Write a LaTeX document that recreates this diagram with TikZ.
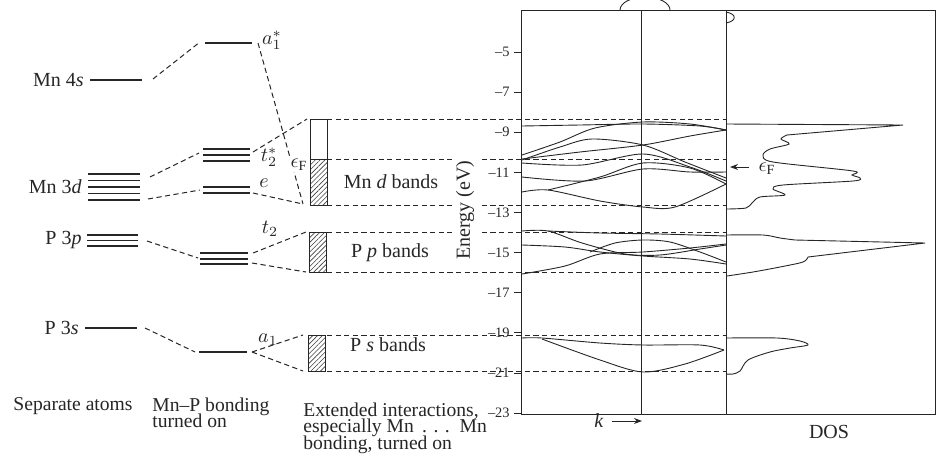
\documentclass[tikz,border=0pt]{standalone}
\usepackage{fontspec}
\setmainfont{Liberation Serif}
\usetikzlibrary{patterns.meta,arrows.meta}
\newcommand\captfont{\fontsize{9.8}{8.4}\selectfont\lineskiplimit=-20pt\relax}
\begin{document}
\begin{tikzpicture}[x=0.5pt,y=-0.5pt, color=black!85,
  lvl/.style={line width=0.6pt},
  dsh/.style={dash pattern=on 2.6pt off 1.7pt, line width=0.5pt},
  lbl/.style={font=\fontsize{10}{12}\selectfont, inner sep=1pt},
  capt/.style={font=\captfont, inner sep=1pt, align=left, anchor=north west},
  ticklbl/.style={font=\fontsize{7.2}{8}\selectfont, anchor=east, inner sep=1pt},
  bandln/.style={line width=0.45pt},
  hatch/.style={pattern={Lines[angle=45,distance=1.7pt,line width=0.3pt]}, pattern color=black!75},
  frame/.style={line width=0.42pt}
]
\useasboundingbox (0,0) rectangle (937,456);

% ---------- column 1: separate atoms ----------
\draw[lvl] (90,80) -- (142,80);
\node[lbl, anchor=east] (Mn4s) at (86,80) {Mn 4\textit{s}};
\foreach \y in {174,180.5,187,193.5,200} \draw[lvl] (88,\y) -- (140,\y);
\node[lbl, anchor=east] (Mn3d) at (84,187) {Mn 3\textit{d}};
\foreach \y in {235,240.5,246} \draw[lvl] (87,\y) -- (138,\y);
\node[lbl, anchor=east] (P3p) at (84,240) {P 3\textit{p}};
\draw[lvl] (85,328) -- (137,328);
\node[lbl, anchor=east] (P3s) at (81,328) {P 3\textit{s}};

\coordinate (s4) at (153,79);
\coordinate (d3a) at (150,177);
\coordinate (d3b) at (148,199);
\coordinate (p3) at (147,241);
\coordinate (s3) at (145,328);

% ---------- column 2: Mn-P bonding ----------
\draw[lvl] (205,43) -- (252,43);
\node[lbl] (a1s) at (272,40) {$a_1^*$};
\foreach \y in {149,155,161} \draw[lvl] (203,\y) -- (250,\y);
\node[lbl] (t2s) at (269,157) {$t_2^*$};
\foreach \y in {187,193} \draw[lvl] (203,\y) -- (250,\y);
\node[lbl] (elab) at (264,183) {$e$};
\foreach \y in {253,259,264} \draw[lvl] (200,\y) -- (248,\y);
\node[lbl] (t2) at (270,229) {$t_2$};
\draw[lvl] (199,352) -- (247,352);
\node[lbl] (a1) at (268,340) {$a_1$};

\coordinate (aSL) at (200,42);  \coordinate (aSR) at (258,43);
\coordinate (tSL) at (199,153); \coordinate (tSR) at (253,152);
\coordinate (eL) at (200,190);  \coordinate (eR) at (253,193);
\coordinate (tL) at (198,258);  \coordinate (tRa) at (253,253); \coordinate (tRb) at (252,263);
\coordinate (aL) at (195,352);  \coordinate (aR) at (252,352);

% ---------- column 3: band blocks ----------
\coordinate (mdT) at (307,119); \coordinate (mdB) at (303,204);
\coordinate (ppT) at (306,232); \coordinate (ppB) at (306,272);
\coordinate (psT) at (303,335); \coordinate (psB) at (303,371);

\draw[frame] (310,119) rectangle (327,159);
\draw[frame, hatch] (310,159) rectangle (327,205);
\draw[frame, hatch] (309,232) rectangle (326,272);
\draw[frame, hatch] (308,335) rectangle (325,371);

\node[lbl] (MnD) at (391,182) {Mn \textit{d} bands};
\node[lbl] (PP) at (390,253) {P \textit{p} bands};
\node[lbl] (PS) at (388,345) {P \textit{s} bands};

% ---------- dashed connectors ----------
\draw[dsh] (s4) -- (aSL);
\draw[dsh] (d3a) -- (tSL);
\draw[dsh] (d3b) -- (eL);
\draw[dsh] (aSR) -- (mdB);
\draw[dsh] (tSR) -- (mdT);
\draw[dsh] (eR) -- (mdB);
\draw[dsh] (p3) -- (tL);
\draw[dsh] (tRa) -- (ppT);
\draw[dsh] (tRb) -- (ppB);
\draw[dsh] (s3) -- (aL);
\draw[dsh] (aR) -- (psT);
\draw[dsh] (aR) -- (psB);

\node[lbl, fill=white, inner sep=0.5pt] (eF1) at (299,165) {$\epsilon_{\mathrm{F}}$};

% ---------- horizontal dashed level lines ----------
\foreach \y in {119,159,205,232,272,335,371} \draw[dsh] (327,\y) -- (726,\y);

% ---------- energy axis and frame ----------
\node[lbl, rotate=90, fill=white, inner sep=2pt] (Elab) at (465,210) {Energy (eV)};
\draw[frame] (521,10) rectangle (935,414);
\draw[frame] (641,10) -- (641,414);
\draw[frame] (726,10) -- (726,414);
\foreach \e [evaluate=\e as \yy using {52+20.06*(-5-\e)}] in {-5,-7,-9,-11,-13,-15,-17,-19,-21,-23} {
  \draw[frame] (514,\yy) -- (521,\yy);
  \node[ticklbl] at (512,\yy) {\textendash\number\numexpr-\e\relax};
}

% ---------- band structure ----------
\draw[bandln] (620,10) arc[start angle=180,end angle=360,x radius=25,y radius=13];
\draw[bandln] (726,12) .. controls (737,14) and (737,21) .. (726,23);
% Mn d region
\draw[bandln] plot[smooth] coordinates {(522,126) (580,125) (643,124) (700,126) (726,130)};
\draw[bandln] plot[smooth] coordinates {(522,155) (560,142) (595,128) (643,122) (690,124) (726,130)};
\draw[bandln] plot[smooth] coordinates {(522,159) (580,152) (643,145) (690,136) (726,130)};
\draw[bandln] plot[smooth] coordinates {(522,160) (560,147) (592,139) (643,145) (685,162) (726,178)};
\draw[bandln] plot[smooth] coordinates {(522,163) (582,165) (643,154) (690,167) (726,181)};
\draw[bandln] plot[smooth] coordinates {(522,177) (585,181) (643,169) (690,172) (726,172)};
\draw[bandln] plot[smooth] coordinates {(522,192) (548,190) (600,201) (643,207) (675,207) (726,184)};
\draw[bandln] plot[smooth] coordinates {(548,190) (600,177) (643,163) (690,168) (726,184)};
% P p region
\draw[bandln] plot[smooth] coordinates {(522,231) (548,231) (582,243) (625,254) (660,255) (700,249) (726,245)};
\draw[bandln] plot[smooth] coordinates {(548,231) (600,233) (660,234) (726,236)};
\draw[bandln] plot[smooth] coordinates {(522,245) (565,247) (600,252) (643,256) (690,259) (726,264)};
\draw[bandln] plot[smooth] coordinates {(590,252) (615,243) (643,240) (670,242) (700,252) (726,262)};
\draw[bandln] plot[smooth] coordinates {(522,274) (565,266) (600,254) (643,252) (690,248) (726,244)};
% P s region
\draw[bandln] plot[smooth] coordinates {(522,338) (542,338) (600,343) (643,345) (700,345) (724,350)};
\draw[bandln] plot[smooth] coordinates {(542,339) (600,360) (643,372) (685,364) (724,350)};

% ---------- DOS ----------
\draw[bandln] (726,124) -- (903,125) -- (787,135);
\draw[bandln] plot[smooth] coordinates {(787,135) (781,139) (789,144) (770,149) (763,155) (773,162) (853,171) (852,175) (860,178) (853,181) (783,185) (773,189) (785,195) (760,197) (752,203) (746,208) (727,209)};
\draw[bandln] plot[smooth] coordinates {(726,235) (763,235) (780,238) (795,240)};
\draw[bandln] (795,240) -- (925,243) -- (808,257);
\draw[bandln] plot[smooth] coordinates {(808,257) (803,262) (780,267) (753,272) (727,276)};
\draw[bandln] plot[smooth] coordinates {(726,338) (777,338) (800,341) (808,345) (790,348) (770,352) (748,360) (740,371) (733,374) (726,374)};

\node[lbl] (eF2) at (767,169) {$\epsilon_{\mathrm{F}}$};
\coordinate (eFtip) at (730,167);
\draw[-{Stealth[length=4pt,width=3pt]}, line width=0.45pt] (749,167) -- (eFtip);

% ---------- axis labels ----------
\node[lbl] (klab) at (599,421) {\textit{k}};
\coordinate (karr) at (642,421);
\draw[-{Stealth[length=4pt,width=3pt]}, line width=0.45pt] (612,421) -- (karr);
\node[lbl] (DOS) at (829,432) {DOS};

% ---------- bottom captions ----------
\node[capt] (sep) at (11,395) {Separate atoms};
\node[capt] (mnp) at (150,395) {Mn\textendash P bonding\\turned on};
\node[capt] (ext) at (301,400) {Extended interactions,\\especially Mn \,.\,\,.\,\,.\, Mn\\bonding, turned on};
\end{tikzpicture}
\end{document}
